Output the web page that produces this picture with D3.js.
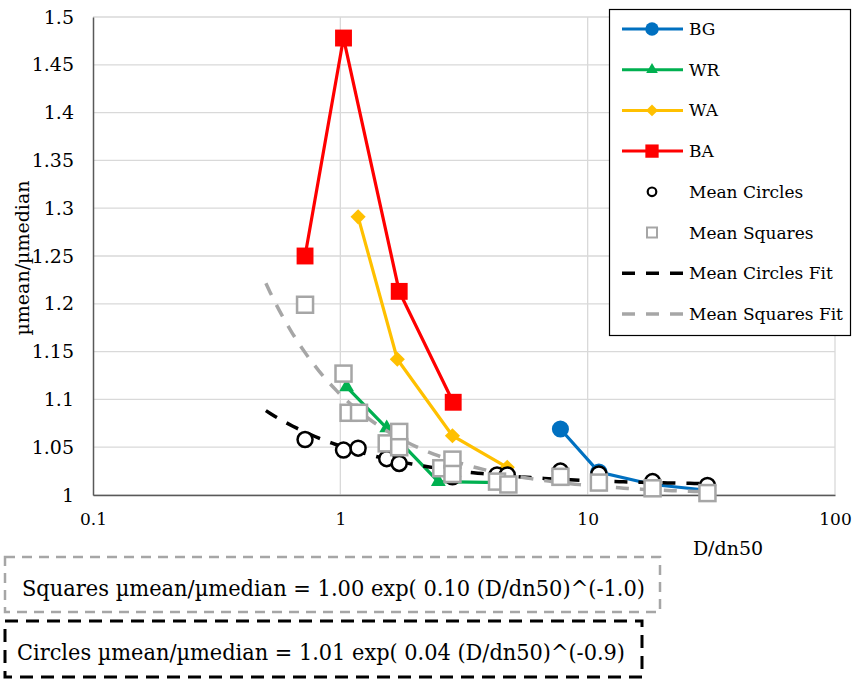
<!DOCTYPE html>
<html>
<head>
<meta charset="utf-8">
<script src="https://cdn.jsdelivr.net/npm/d3@7"></script>
<style>
  body { margin: 0; background: #fff; }
</style>
</head>
<body>
<svg class="graph"></svg>
<script>
// series: [D/dn50, mean/median]
const bg = [[7.76, 1.069], [11.1, 1.024], [18.3, 1.011], [30.5, 1.005]];
const wr = [[1.06, 1.113], [1.54, 1.070], [2.49, 1.014], [4.5, 1.013]];
const wa = [[1.18, 1.291], [1.70, 1.142], [2.84, 1.062], [4.73, 1.029]];
const ba = [[0.72, 1.250], [1.03, 1.478], [1.73, 1.213], [2.86, 1.097]];
const meanCircles = [[0.72, 1.058], [1.03, 1.047], [1.18, 1.049], [1.54, 1.038], [1.73, 1.033],
  [2.84, 1.019], [4.3, 1.021], [4.73, 1.021], [7.76, 1.025], [11.1, 1.022], [18.3, 1.014], [30.5, 1.010]];
const meanSquares = [[0.72, 1.199], [1.03, 1.127], [1.08, 1.086], [1.19, 1.086], [1.54, 1.054],
  [1.73, 1.066], [1.73, 1.050], [2.56, 1.028], [2.84, 1.037], [2.84, 1.022], [4.3, 1.014],
  [4.78, 1.011], [7.76, 1.019], [11.1, 1.013], [18.3, 1.007], [30.5, 1.002]];
// fits as printed on the chart: a * exp(b * x^c), drawn over fitRange
const circlesFit = [1.01, 0.04, -0.9];
const squaresFit = [1.00, 0.10, -1.0];
const fitRange = [0.5, 30.5];

const xTicks = [0.1, 1, 10, 100];
const yTicks = [1, 1.05, 1.1, 1.15, 1.2, 1.25, 1.3, 1.35, 1.4, 1.45, 1.5];
const legendNames = ["BG", "WR", "WA", "BA", "Mean Circles", "Mean Squares", "Mean Circles Fit", "Mean Squares Fit"];
const equations = [
  "Squares \u00b5mean/\u00b5median = 1.00 exp( 0.10 (D/dn50)^(-1.0)",
  "Circles \u00b5mean/\u00b5median = 1.01 exp( 0.04 (D/dn50)^(-0.9)"
];

const font = "DejaVu Serif";
const width = 852, height = 679;
const svg = d3.select(".graph").attr("width", width).attr("height", height)
    .attr("font-family", font);

const x = d3.scaleLog().domain([0.1, 100]).range([93, 835]);
const y = d3.scaleLinear().domain([1, 1.5]).range([495, 17]);

const grid = "#d9d9d9";

// gridlines
svg.append("g").selectAll("line").data(yTicks).enter().append("line")
    .attr("x1", x(0.1)).attr("x2", x(100))
    .attr("y1", d => y(d)).attr("y2", d => y(d))
    .attr("stroke", grid).attr("stroke-width", 1.3);
svg.append("g").selectAll("line").data(xTicks.slice(1)).enter().append("line")
    .attr("x1", d => x(d)).attr("x2", d => x(d))
    .attr("y1", y(1)).attr("y2", y(1.5))
    .attr("stroke", grid).attr("stroke-width", 1.3);

// axes
const yAxis = svg.append("g").attr("transform", `translate(${x(0.1)},0)`)
    .call(d3.axisLeft(y).tickValues(yTicks).tickSize(0).tickPadding(19).tickFormat(d3.format("")));
const xAxis = svg.append("g").attr("transform", `translate(0,${y(1)})`)
    .call(d3.axisBottom(x).tickValues(xTicks).tickSize(0).tickPadding(18).tickFormat(d3.format("")));
yAxis.attr("font-family", font).attr("font-size", 19);
xAxis.attr("font-family", font).attr("font-size", 17);
[yAxis, xAxis].forEach(a => {
  a.select(".domain").attr("stroke", "#595959").attr("stroke-width", 1.5);
  a.selectAll("text").attr("fill", "#000");
});

svg.append("text").attr("x", 728).attr("y", 555).attr("text-anchor", "middle")
    .attr("font-size", 19).text("D/dn50");
svg.append("text").attr("transform", "translate(29,258) rotate(-90)").attr("text-anchor", "middle")
    .attr("font-size", 19).text("\u00b5mean/\u00b5median");

const line = d3.line().x(d => x(d[0])).y(d => y(d[1]));

const series = [
  { data: bg, color: "#0070c0", shape: d3.symbolCircle, size: 230, rot: 0 },
  { data: wr, color: "#00b050", shape: d3.symbolTriangle, size: 95, rot: 0 },
  { data: wa, color: "#ffc000", shape: d3.symbolSquare, size: 115, rot: 45 },
  { data: ba, color: "#ff0000", shape: d3.symbolSquare, size: 285, rot: 0 }
];

series.forEach(s => {
  svg.append("path").datum(s.data).attr("d", line)
      .attr("fill", "none").attr("stroke", s.color).attr("stroke-width", 3.2);
  svg.append("g").selectAll("path").data(s.data).enter().append("path")
      .attr("transform", d => `translate(${x(d[0])},${y(d[1])}) rotate(${s.rot})`)
      .attr("d", d3.symbol().type(s.shape).size(s.size))
      .attr("fill", s.color);
});

// fit curves
const fitX = d3.range(0, 101).map(i => fitRange[0] * Math.pow(fitRange[1] / fitRange[0], i / 100));
const fits = [
  { p: circlesFit, color: "#000" },
  { p: squaresFit, color: "#a6a6a6" }
];
fits.forEach(f => {
  const pts = fitX.map(v => [v, f.p[0] * Math.exp(f.p[1] * Math.pow(v, f.p[2]))]);
  svg.append("path").datum(pts).attr("d", line)
      .attr("fill", "none").attr("stroke", f.color).attr("stroke-width", 3.5)
      .attr("stroke-dasharray", "13,11");
});

svg.append("g").selectAll("circle").data(meanCircles).enter().append("circle")
    .attr("cx", d => x(d[0])).attr("cy", d => y(d[1])).attr("r", 7.5)
    .attr("fill", "#fff").attr("stroke", "#000").attr("stroke-width", 2.5);

svg.append("g").selectAll("rect").data(meanSquares).enter().append("rect")
    .attr("x", d => x(d[0]) - 8).attr("y", d => y(d[1]) - 8)
    .attr("width", 16).attr("height", 16)
    .attr("fill", "#fff").attr("stroke", "#a6a6a6").attr("stroke-width", 2.5);

// legend
const lg = svg.append("g");
lg.append("rect").attr("x", 609.5).attr("y", 9.5).attr("width", 241).attr("height", 326)
    .attr("fill", "#fff").attr("stroke", "#000").attr("stroke-width", 1.2);
legendNames.forEach((name, i) => {
  const cy = 29 + i * 40.7;
  const g = lg.append("g");
  if (i < 4) {
    const s = series[i];
    g.append("line").attr("x1", 622).attr("x2", 683).attr("y1", cy).attr("y2", cy)
        .attr("stroke", s.color).attr("stroke-width", 3);
    g.append("path").attr("transform", `translate(652,${cy}) rotate(${s.rot})`)
        .attr("d", d3.symbol().type(s.shape).size(s.size * 0.62)).attr("fill", s.color);
  } else if (i === 4) {
    g.append("circle").attr("cx", 652).attr("cy", cy).attr("r", 4.3)
        .attr("fill", "#fff").attr("stroke", "#000").attr("stroke-width", 2.2);
  } else if (i === 5) {
    g.append("rect").attr("x", 647).attr("y", cy - 5).attr("width", 10).attr("height", 10)
        .attr("fill", "#fff").attr("stroke", "#a6a6a6").attr("stroke-width", 2);
  } else {
    g.append("line").attr("x1", 622).attr("x2", 683).attr("y1", cy).attr("y2", cy)
        .attr("stroke", i === 6 ? "#000" : "#a6a6a6").attr("stroke-width", 3.5)
        .attr("stroke-dasharray", "13,11");
  }
  g.append("text").attr("x", 689).attr("y", cy + 6).attr("font-size", 17).text(name);
});

// equation boxes
svg.append("rect").attr("x", 5).attr("y", 557).attr("width", 655).attr("height", 55)
    .attr("fill", "none").attr("stroke", "#a6a6a6").attr("stroke-width", 2.5)
    .attr("stroke-dasharray", "10,7");
svg.append("rect").attr("x", 5).attr("y", 621).attr("width", 637).attr("height", 56)
    .attr("fill", "none").attr("stroke", "#000").attr("stroke-width", 3)
    .attr("stroke-dasharray", "13,8");
svg.append("text").attr("x", 22).attr("y", 596).attr("font-size", 23)
    .attr("textLength", 623).attr("lengthAdjust", "spacingAndGlyphs").text(equations[0]);
svg.append("text").attr("x", 17).attr("y", 660).attr("font-size", 23)
    .attr("textLength", 608).attr("lengthAdjust", "spacingAndGlyphs").text(equations[1]);
</script>
</body>
</html>
